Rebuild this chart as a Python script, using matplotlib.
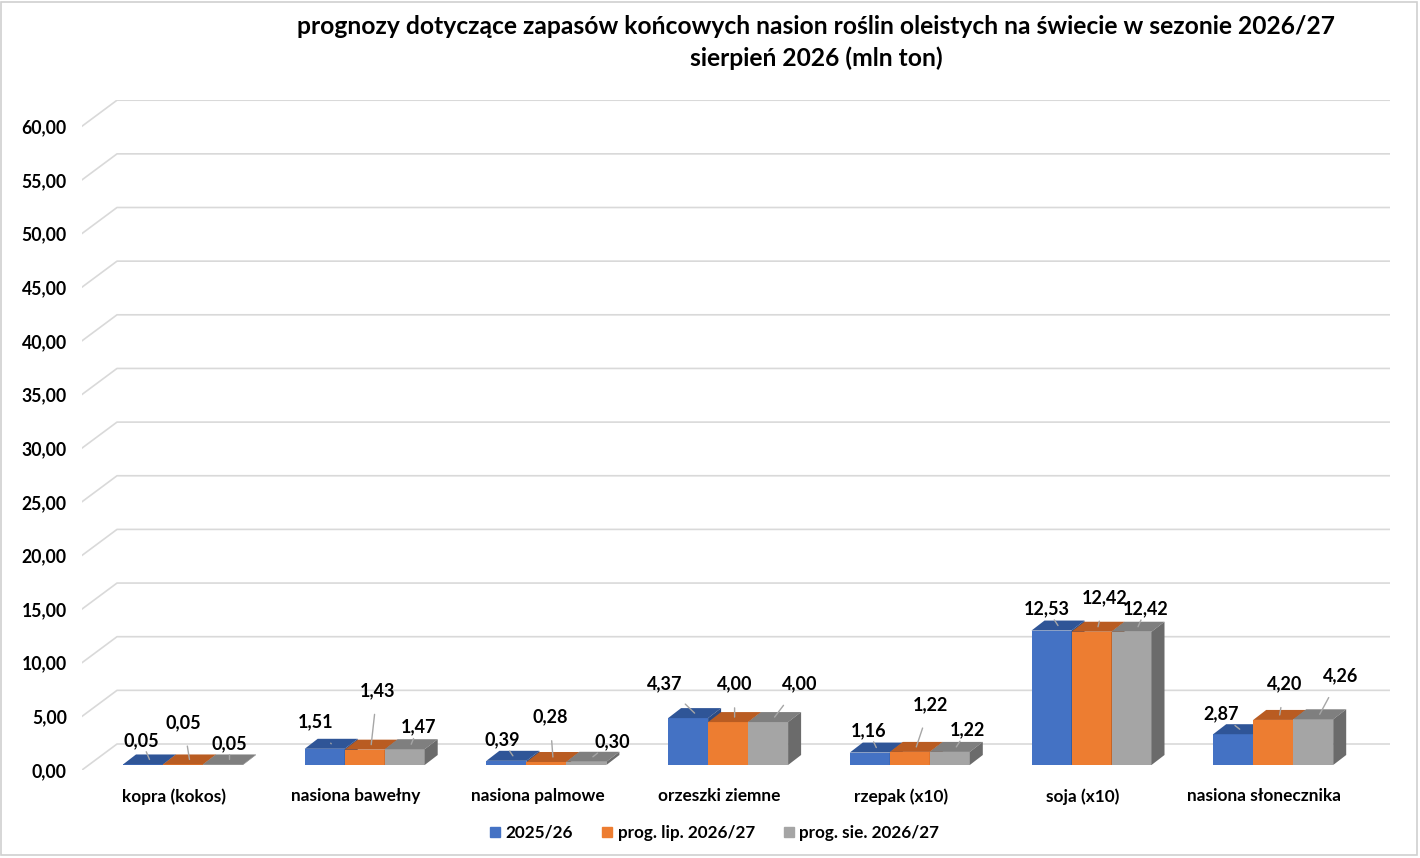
import matplotlib
matplotlib.use("Agg")
import matplotlib.pyplot as plt
from matplotlib.patches import Polygon, Rectangle
from matplotlib.lines import Line2D

plt.rcParams['font.family'] = ['Lato', 'DejaVu Sans']
plt.rcParams['font.weight'] = 'bold'

# data
categories = ['kopra (kokos)', 'nasiona bawełny', 'nasiona palmowe', 'orzeszki ziemne',
              'rzepak (x10)', 'soja (x10)', 'nasiona słonecznika']
series_names = ['2025/26', 'prog. lip. 2026/27', 'prog. sie. 2026/27']
v_2025 = [0.05, 1.51, 0.39, 4.37, 1.16, 12.53, 2.87]
v_lip = [0.05, 1.43, 0.28, 4.00, 1.22, 12.42, 4.20]
v_sie = [0.05, 1.47, 0.30, 4.00, 1.22, 12.42, 4.26]
series = [v_2025, v_lip, v_sie]
yticks = list(range(0, 61, 5))

# styles
front = ['#4472C4', '#ED7D31', '#A5A5A5']
top = ['#2F5597', '#B95C22', '#7F7F7F']
side = ['#2A4B84', '#A14E1C', '#6B6B6B']

# label offsets in pixels (dx, dy) from the centre of each bar top
lab_off = [
    [(-8, 19), (-16, 22), (-11, 16), (-30, 29), (-8, 17), (-11, 17), (-19, 15)],
    [(-6, 37), (6, 54), (-3, 40), (0, 33), (14, 42), (7, 29), (5, 31)],
    [(0, 16), (7, 17), (19, 15), (25, 33), (11, 17), (8, 18), (21, 39)],
]

W, H = 1420, 858
fig = plt.figure(figsize=(W / 100, H / 100), dpi=100)
fig.patches.append(Rectangle((0.001, 0.003), 0.997, 0.995, transform=fig.transFigure,
                             fill=False, edgecolor='#d0d0d0', linewidth=1.2))

ax = fig.add_axes([82 / W, (H - 770) / H, (1390 - 82) / W, (770 - 100) / H])
px_x = 181.7   # pixels per category
px_y = 10.73   # pixels per unit
x0 = (82 - 183.5) / px_x
x1 = x0 + (1390 - 82) / px_x
ax.set_xlim(x0, x1)
ax.set_ylim(0, 670 / px_y)

# back wall + left diagonal gridlines
DX, DY = 35 / px_x, 26 / px_y
for v in yticks:
    ax.plot([x0, x0 + DX, x1], [v, v + DY, v + DY], color='#d9d9d9', lw=1.2, zorder=0)

# bars with faux depth
bw = 40 / px_x
dx, dy = 13 / px_x, 10 / px_y
base = 5 / px_y
gstart = (123 - 183.5) / px_x
for j, vals in enumerate(series):
    xs = [i + gstart + j * bw for i in range(len(categories))]
    ax.bar(xs, vals, width=bw, bottom=base, align='edge', color=front[j], zorder=2 + j)
    for x, h in zip(xs, vals):
        t = base + h
        ax.add_patch(Polygon([(x, t), (x + bw, t), (x + bw + dx, t + dy), (x + dx, t + dy)],
                             closed=True, facecolor=top[j], edgecolor='none', zorder=2 + j))
        ax.add_patch(Polygon([(x + bw, base), (x + bw + dx, base + dy), (x + bw + dx, t + dy), (x + bw, t)],
                             closed=True, facecolor=side[j], edgecolor='none', zorder=2 + j))
    for i, (x, h) in enumerate(zip(xs, vals)):
        ax.annotate(f'{h:.2f}'.replace('.', ','), xy=(x + bw / 2 + dx / 2, base + h + dy / 2),
                    xytext=lab_off[j][i], textcoords='offset pixels', ha='center', va='center',
                    fontsize=13, fontweight='bold', color='#000000', zorder=10,
                    arrowprops=dict(arrowstyle='-', color='#a6a6a6', lw=1.0, shrinkA=9, shrinkB=0))

ax.set_yticks(yticks)
ax.set_yticklabels([f'{v:.2f}'.replace('.', ',') for v in yticks], fontsize=12.7, fontweight='bold')
ax.set_xticks([i - 0.052 for i in range(len(categories))])
ax.set_xticklabels(categories, fontsize=12.4, fontweight='bold')
ax.tick_params(axis='y', length=0, pad=11)
ax.tick_params(axis='x', length=0, pad=13)
for s in ax.spines.values():
    s.set_visible(False)

fig.text(816 / W, 1 - 27 / H, 'prognozy dotyczące zapasów końcowych nasion roślin oleistych na świecie w sezonie 2026/27',
         ha='center', va='center', fontsize=17.7, fontweight='bold')
fig.text(816 / W, 1 - 58 / H, 'sierpień 2026 (mln ton)', ha='center', va='center',
         fontsize=17.7, fontweight='bold')

handles = [Line2D([], [], marker='s', linestyle='none', markersize=7, color=c) for c in front]
fig.legend(handles, series_names, loc='center', bbox_to_anchor=(713 / W, 1 - 833 / H), ncol=3,
           frameon=False, prop={'size': 12.3, 'weight': 'bold'}, handletextpad=0.1, columnspacing=1.5,
           handlelength=1.0)

fig.savefig('out.png', dpi=100)
